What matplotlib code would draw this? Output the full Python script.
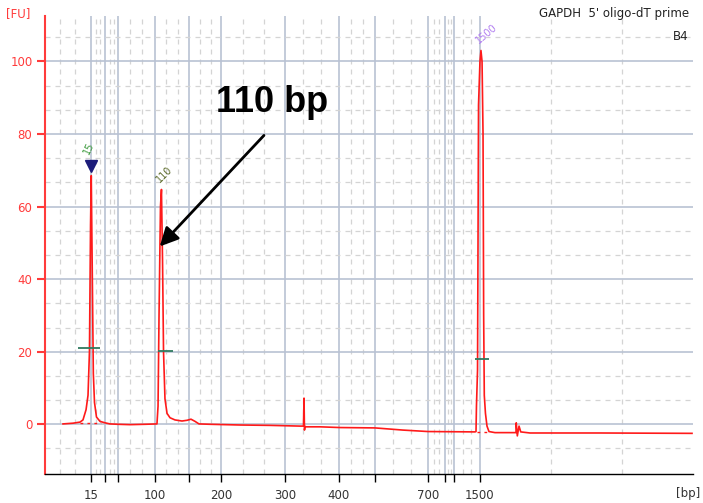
import numpy as np
import matplotlib
matplotlib.use("Agg")
from matplotlib import pyplot as plt
from matplotlib.ticker import FixedLocator, NullFormatter

'''
Bioanalyzer electropherogram, GAPDH 5' oligo-dT prime, well B4.
x axis is migration time, labelled with the ladder sizes.
'''

# ladder sizes (bp) and their migration times (s)
ladder_bp = [15, 25, 50, 100, 150, 200, 300, 400, 500, 700, 850, 1000, 1500]
ladder_time = [48.08, 49.70, 51.11, 55.19, 59.03, 62.59, 69.67, 75.63, 79.67,
               85.59, 87.44, 88.48, 91.33]
labelled_bp = [15, 100, 200, 300, 400, 700, 1500]

# trace (fluorescence units vs time)
trace_time = [45.00, 46.11, 46.89, 47.22, 47.56, 47.78, 47.94, 48.06, 48.14, 48.26,
              48.37, 48.50, 48.72, 49.11, 49.67, 50.22, 51.11, 52.44, 54.11, 55.44,
              55.56, 55.67, 55.83, 55.94, 56.06, 56.17, 56.33, 56.56, 56.89, 57.44,
              58.22, 58.78, 59.22, 59.67, 60.11, 61.33, 64.67, 68.00, 71.33, 71.72,
              71.78, 71.83, 71.89, 72.00, 73.56, 75.78, 79.67, 82.78, 85.56, 90.78,
              90.89, 90.94, 91.06, 91.17, 91.33, 91.44, 91.56, 91.67, 91.74, 91.81,
              91.94, 92.11, 92.33, 93.00, 95.33, 95.36, 95.48, 95.67, 95.86, 96.89,
              104.67, 114.89]
trace_fu = [0.1, 0.3, 0.6, 1.2, 4.0, 8.0, 20.0, 55.0, 68.5, 40.0,
            14.0, 6.0, 2.0, 0.8, 0.4, 0.1, 0.0, -0.1, 0.0, 0.1,
            5.0, 30.0, 60.0, 64.7, 45.0, 20.0, 7.0, 3.0, 1.8, 1.2,
            0.9, 1.1, 1.4, 0.8, 0.1, 0.0, -0.2, -0.3, -0.5, -0.5,
            7.2, -1.6, -0.6, -0.7, -0.7, -0.9, -1.0, -1.6, -2.0, -2.1,
            -2.0, 5.0, 15.0, 88.0, 100.0, 103.0, 100.0, 80.0, 30.0, 8.0,
            3.0, -0.5, -2.0, -2.3, -2.3, 0.4, -3.2, -0.5, -2.1, -2.4,
            -2.4, -2.5]

# called peaks
peak_labels = ['15', '110', '1500']
peak_time = [48.14, 55.94, 91.44]
peak_fu = [68.5, 64.7, 103.0]
peak_colors = ['#3d9a3d', '#5b6a2a', '#b07cf0']
peak_rot = [65, 45, 40]

# peak start/end marks
bar_start = [46.67, 55.56, 90.78]
bar_end = [49.11, 57.22, 92.33]
bar_fu = [21.0, 20.1, 18.0]

xlim = (43.0, 115.0)
ylim = (-13.7, 112.5)

fig = plt.figure(figsize=(7.03, 5.03), dpi=100)
ax = fig.add_axes([45 / 703, 29 / 503, 648 / 703, 458 / 503])
ax.set_xlim(xlim)
ax.set_ylim(ylim)

# grid: solid at ladder / every 20 FU, dashed at thirds in between
edges = [xlim[0]] + ladder_time + [xlim[1]]
x_minor = []
for a, b in zip(edges[:-1], edges[1:]):
    x_minor += [a + (b - a) / 3, a + 2 * (b - a) / 3]
y_major = np.arange(0, 101, 20)
y_minor = [v for v in np.arange(-20, 121, 20 / 3)
           if -10 < v < ylim[1] and abs(v / 20 - round(v / 20)) > 0.01]

ax.xaxis.set_major_locator(FixedLocator(ladder_time))
ax.xaxis.set_minor_locator(FixedLocator(x_minor))
ax.set_xticklabels([str(b) if b in labelled_bp else '' for b in ladder_bp])
ax.yaxis.set_major_locator(FixedLocator(y_major))
ax.yaxis.set_minor_locator(FixedLocator(y_minor))
ax.yaxis.set_minor_formatter(NullFormatter())

ax.grid(which='major', color='#b9c2d3', lw=1.2, ls='-')
ax.grid(which='minor', color='#d4d4d4', lw=0.9, ls=(0, (4, 4)))
ax.set_axisbelow(True)

for s in ['top', 'right']:
    ax.spines[s].set_visible(False)
ax.spines['left'].set_color('#ff3b3b')
ax.spines['left'].set_linewidth(1.5)
ax.spines['bottom'].set_color('black')
ax.spines['bottom'].set_linewidth(1.0)

font = 'DejaVu Sans'
ax.tick_params(axis='y', which='major', colors='#ff3b3b', length=6, width=1.5,
               labelsize=8.5, pad=3)
ax.tick_params(axis='x', which='major', colors='black', length=6, width=1,
               labelsize=8.5, pad=5)
ax.tick_params(which='minor', length=0)
for lab in ax.get_xticklabels() + ax.get_yticklabels():
    lab.set_family(font)
for lab in ax.get_xticklabels():
    lab.set_color('#333333')

# trace
ax.plot(trace_time, trace_fu, color='#ff1a1a', lw=1.2, zorder=3)

# peak baselines
ax.plot([46.9, 49.2], [0.4, 0.4], color='#ff1a1a', lw=1, ls=(0, (2, 3)), zorder=3)
ax.plot([91.0, 92.3], [-2.2, -2.2], color='#ff1a1a', lw=1, ls=(0, (2, 3)), zorder=3)

# peak start/end marks
ax.hlines(bar_fu, bar_start, bar_end, color='#2f7a5f', lw=1.3, zorder=4)

# ladder marker on the lower marker peak
ax.plot(peak_time[0] - 0.04, peak_fu[0] + 2.6, marker='v', ms=9, color='#1c1c7a',
        zorder=5)

# peak labels
for lab, t, f, c, r in zip(peak_labels, peak_time, peak_fu, peak_colors, peak_rot):
    dy = 5.5 if lab == '15' else 1.5
    ax.text(t - 0.05, f + dy, lab, color=c, fontsize=7, rotation=r,
            rotation_mode='anchor', ha='left', va='bottom', family=font)

# annotation
ax.text(68.2, 88.6, '110 bp', fontsize=26, fontweight='bold',
        family='Liberation Sans', ha='center', va='center')
ax.annotate('', xy=(55.75, 49.0), xytext=(67.33, 79.6),
            arrowprops=dict(arrowstyle='-|>', color='black', lw=2,
                            mutation_scale=28, shrinkA=0, shrinkB=0))

# header texts
fig.text(18 / 703, 1 - 14 / 503, '[FU]', color='#ff3b3b', fontsize=8.5,
         ha='center', va='center', family=font)
fig.text(700 / 703, 1 - 493 / 503, '[bp]', color='#333333', fontsize=8.5,
         ha='right', va='center', family=font)
fig.text(689 / 703, 1 - 14 / 503, "GAPDH  5' oligo-dT prime", color='#222222',
         fontsize=8.5, ha='right', va='center', family=font)
fig.text(689 / 703, 1 - 37 / 503, 'B4', color='#222222', fontsize=8.5,
         ha='right', va='center', family=font)

fig.savefig('out.png', dpi=100)
